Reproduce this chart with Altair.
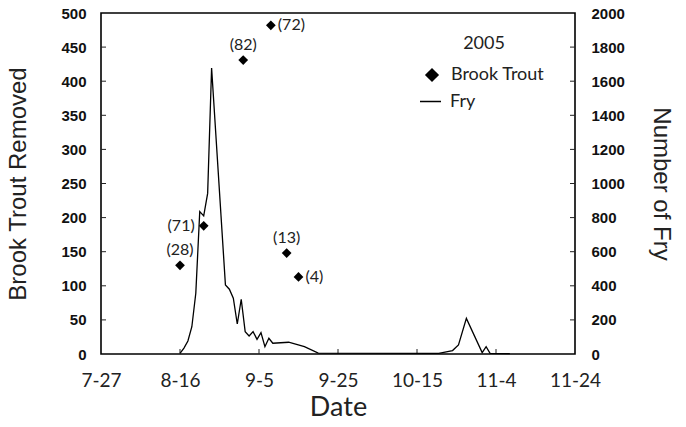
import altair as alt
import pandas as pd

# ---------------- data ----------------
fish_dates = ["2005-08-16T00:00", "2005-08-22T00:00", "2005-09-01T00:00",
              "2005-09-08T00:00", "2005-09-12T00:00", "2005-09-15T00:00"]
fish_removed = [130, 188, 431, 482, 148, 113]
fish_n = [28, 71, 82, 72, 13, 4]

fry_dates = ["2005-08-16T00:00", "2005-08-17T00:00", "2005-08-18T00:00",
             "2005-08-19T00:00", "2005-08-20T00:00", "2005-08-21T00:00",
             "2005-08-22T00:00", "2005-08-23T00:00", "2005-08-24T00:00",
             "2005-08-27T12:00", "2005-08-28T12:00", "2005-08-29T12:00",
             "2005-08-30T12:00", "2005-08-31T12:00", "2005-09-01T12:00",
             "2005-09-02T12:00", "2005-09-03T12:00", "2005-09-04T12:00",
             "2005-09-05T12:00", "2005-09-06T12:00", "2005-09-07T12:00",
             "2005-09-08T12:00", "2005-09-12T12:00", "2005-09-16T12:00",
             "2005-09-20T00:00", "2005-10-20T12:00", "2005-10-24T00:00",
             "2005-10-25T12:00", "2005-10-27T12:00", "2005-10-31T12:00",
             "2005-11-01T12:00", "2005-11-02T12:00", "2005-11-07T12:00"]
fry_counts = [4, 35, 76, 160, 356, 835,
              810, 942, 1677,
              405, 380, 327,
              176, 321, 131,
              106, 131, 86,
              125, 43, 92,
              63, 69, 43,
              5, 4, 20,
              53, 209, 8,
              43, 4, 2]

x_tick_dates = [(2005, 7, 27), (2005, 8, 16), (2005, 9, 5), (2005, 9, 25),
                (2005, 10, 15), (2005, 11, 4), (2005, 11, 24)]
left_ticks = [0, 50, 100, 150, 200, 250, 300, 350, 400, 450, 500]
right_ticks = [0, 200, 400, 600, 800, 1000, 1200, 1400, 1600, 1800, 2000]

# ---------------- tables ----------------
fish = pd.DataFrame({"date": fish_dates, "removed": fish_removed,
                     "n": fish_n, "series": "Brook Trout"})
fry = pd.DataFrame({"date": fry_dates, "fry": fry_counts, "series": "Fry"})
xt = pd.DataFrame({"date": ["%04d-%02d-%02dT00:00" % d for d in x_tick_dates[1:-1]]})
lt = pd.DataFrame({"removed": left_ticks[1:-1]})
rt = pd.DataFrame({"fry": right_ticks[1:-1]})

W, H = 474, 341
TXT = "#222222"

x_axis = alt.Axis(
    values=[alt.DateTime(year=y, month=m, date=d) for (y, m, d) in x_tick_dates],
    format="%-m-%-d", ticks=False, domain=False, grid=False, labelOverlap=False,
    labelFlush=False,
    labelFont="Lato", labelFontSize=19, labelColor=TXT, labelPadding=17,
    title="Date", titleFont="Lato", titleFontSize=27, titleFontWeight="normal",
    titleColor=TXT, titlePadding=4)
x_scale = alt.Scale(domain=[alt.DateTime(year=2005, month=7, date=27),
                            alt.DateTime(year=2005, month=11, date=24)])
x_enc = alt.X("date:T", scale=x_scale, axis=x_axis)

yl_axis = alt.Axis(
    values=left_ticks, orient="left", ticks=False, domain=False, grid=False,
    format="d",
    labelFont="Liberation Sans", labelFontWeight="bold", labelFontSize=15,
    labelColor="#111111", labelPadding=15,
    title="Brook Trout Removed", titleFont="Liberation Sans", titleFontSize=24,
    titleFontWeight="normal", titleColor=TXT, titlePadding=30)
yl_scale = alt.Scale(domain=[0, 500], nice=False)
yl_enc = alt.Y("removed:Q", scale=yl_scale, axis=yl_axis)

yr_axis = alt.Axis(
    values=right_ticks, orient="right", ticks=False, domain=False, grid=False,
    format="d",
    labelFont="Liberation Sans", labelFontWeight="bold", labelFontSize=15,
    labelColor="#111111", labelPadding=16,
    title="Number of Fry", titleFont="Liberation Sans", titleFontSize=24,
    titleFontWeight="normal", titleColor=TXT, titlePadding=24)
yr_scale = alt.Scale(domain=[0, 2000], nice=False)
yr_enc = alt.Y("fry:Q", scale=yr_scale, axis=yr_axis)

pts = alt.Chart(fish).mark_point(filled=True, size=95, opacity=1, color="black").encode(
    x=x_enc, y=yl_enc,
    shape=alt.Shape("series:N",
                    scale=alt.Scale(domain=["Brook Trout"], range=["diamond"]),
                    legend=alt.Legend(
                        title="2005", orient="none", legendX=322, legendY=22,
                        padding=0, titleFont="Lato", titleFontSize=18,
                        titleFontWeight="normal", titleColor=TXT,
                        titleAnchor="middle", titleAlign="center", titlePadding=13,
                        labelFont="Lato", labelFontSize=18, labelColor=TXT,
                        labelOffset=10, symbolSize=200, symbolFillColor="black",
                        symbolStrokeColor="black", symbolStrokeWidth=0)),
)

lbl = alt.Chart(fish).transform_calculate(label="'(' + datum.n + ')'")
lbl_above = lbl.transform_filter(
    alt.FieldOneOfPredicate(field="n", oneOf=[82, 28, 13])
).mark_text(font="Lato", fontSize=16, color=TXT, dy=-15, baseline="middle").encode(
    x=x_enc, y=yl_enc, text="label:N")
lbl_right = lbl.transform_filter(
    alt.FieldOneOfPredicate(field="n", oneOf=[72, 4])
).mark_text(font="Lato", fontSize=16, color=TXT, dx=7, align="left", baseline="middle").encode(
    x=x_enc, y=yl_enc, text="label:N")
lbl_left = lbl.transform_filter(
    alt.FieldOneOfPredicate(field="n", oneOf=[71])
).mark_text(font="Lato", fontSize=16, color=TXT, dx=-9, align="right", baseline="middle").encode(
    x=x_enc, y=yl_enc, text="label:N")

left_tick_marks = alt.Chart(lt).mark_rule(color="#222222", strokeWidth=1).encode(
    y=yl_enc, x=alt.value(0), x2=alt.value(5))
bottom_tick_marks = alt.Chart(xt).mark_rule(color="#222222", strokeWidth=1).encode(
    x=x_enc, y=alt.value(H), y2=alt.value(H - 5))

left = alt.layer(pts, lbl_above, lbl_right, lbl_left, left_tick_marks, bottom_tick_marks)

line = alt.Chart(fry).mark_line(strokeWidth=1.3, interpolate="linear").encode(
    x=x_enc, y=yr_enc,
    color=alt.Color("series:N", scale=alt.Scale(domain=["Fry"], range=["black"]),
                    legend=alt.Legend(
                        title=None, orient="none", legendX=318, legendY=77,
                        padding=0, symbolType="stroke", symbolSize=441,
                        symbolStrokeWidth=1.5, symbolStrokeColor="black",
                        labelFont="Lato", labelFontSize=18, labelColor=TXT,
                        labelOffset=8)),
)
right_tick_marks = alt.Chart(rt).mark_rule(color="#222222", strokeWidth=1).encode(
    y=yr_enc, x=alt.value(W - 5), x2=alt.value(W))

right = alt.layer(line, right_tick_marks)

chart = alt.layer(left, right).resolve_scale(y="independent").properties(
    width=W, height=H,
    padding={"left": 101, "top": 13, "right": 111, "bottom": 73},
    autosize=alt.AutoSizeParams(type="none"),
    background="white",
).configure_view(stroke="black", strokeWidth=1.6)

chart.save("out.html", embed_options={"renderer": "svg", "actions": False})
